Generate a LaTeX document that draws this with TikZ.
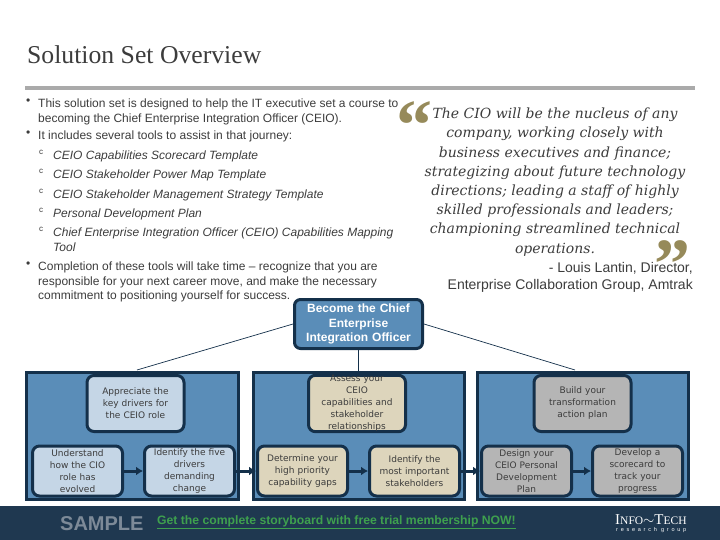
\documentclass[tikz,border=0pt]{standalone}
\usepackage{fontspec}
\setmainfont{Liberation Sans}
\newfontfamily\titlefont{Liberation Serif}
\newfontfamily\quotefont{DejaVu Serif}
\newfontfamily\boxfont{DejaVu Sans}
\newfontfamily\logofont[LetterSpace=50]{Liberation Sans}
\usetikzlibrary{arrows.meta,positioning}
\definecolor{navydark}{RGB}{20, 48, 74}
\definecolor{footerblue}{RGB}{31, 56, 80}
\definecolor{panelblue}{RGB}{90, 141, 184}
\definecolor{paleblue}{RGB}{197, 214, 230}
\definecolor{palesand}{RGB}{221, 213, 188}
\definecolor{palegray}{RGB}{181, 181, 181}
\definecolor{ruledgray}{RGB}{170, 170, 170}
\definecolor{bodygray}{RGB}{60, 60, 60}
\definecolor{quoteolive}{RGB}{150, 138, 90}
\definecolor{linkgreen}{RGB}{62, 160, 78}
\definecolor{samplegray}{RGB}{125, 138, 152}
\tikzset{
  panelbox/.style={draw=navydark, line width=3pt, fill=panelblue, minimum width=#1, minimum height=127pt, inner sep=0pt},
  topbox/.style={draw=navydark, line width=3pt, rounded corners=7pt, minimum width=97pt, minimum height=56pt, text width=92pt, align=center, inner sep=0pt, text=bodygray, font=\boxfont\fontsize{9}{12}\selectfont},
  lowbox/.style={topbox, minimum width=90pt, minimum height=50pt, text width=88pt},
  bodytext/.style={anchor=north west, inner sep=0pt, align=left, text=bodygray, font=\fontsize{12}{14.5}\selectfont},
  subtext/.style={bodytext, font=\fontsize{12}{14.5}\selectfont\itshape},
  quoteline/.style={inner sep=0pt, align=center, text=bodygray, font=\quotefont\fontsize{14}{19.2}\selectfont\itshape},
  quotemark/.style={text=quoteolive, inner sep=0pt, anchor=north, font=\titlefont\bfseries\fontsize{72}{72}\selectfont},
  flowarrow/.style={draw=navydark, line width=3pt, -{Latex[length=7pt,width=9pt]}},
  thinline/.style={draw=navydark, line width=0.7pt},
}
\begin{document}
\begin{tikzpicture}[x=1pt, y=-1pt]
    \useasboundingbox (0,0) rectangle (720,540);

    \node[anchor=west, inner sep=0pt, text=bodygray, font=\titlefont\fontsize{25.7}{26}\selectfont] (title) at (27,55) {Solution Set Overview};
    \fill[ruledgray] (25,86.5) rectangle (695,90);

    \node[bodytext] (bulletA) at (26,99) {•};
    \node[bodytext] (itemA) at (38,99) {This solution set is designed to help the IT executive set a course to\\becoming the Chief Enterprise Integration Officer (CEIO).};
    \node[bodytext] (bulletB) at (26,131) {•};
    \node[bodytext] (itemB) at (38,131) {It includes several tools to assist in that journey:};
    \foreach \name/\ypos/\txt in {subA/151/CEIO Capabilities Scorecard Template, subB/170/CEIO Stakeholder Power Map Template, subC/190/CEIO Stakeholder Management Strategy Template, subD/209/Personal Development Plan, subE/228/Chief Enterprise Integration Officer (CEIO) Capabilities Mapping\\Tool}{
        \node[bodytext, font=\fontsize{8}{8}\selectfont] (\name mark) at (39,\ypos-1) {c};
        \node[subtext] (\name) at (53,\ypos) {\txt};
    }
    \node[bodytext] (bulletC) at (26,262) {•};
    \node[bodytext] (itemC) at (38,262) {Completion of these tools will take time -- recognize that you are\\responsible for your next career move, and make the necessary\\commitment to positioning yourself for success.};

    \node[quotemark] (quoteopen) at (414,100) {\raisebox{-25pt}[24pt][0pt]{“}};
    \node[quotemark] (quoteclose) at (672,239.5) {\raisebox{-25pt}[24pt][0pt]{”}};
    \node[quoteline] (quote) at (555,182) {The CIO will be the nucleus of any\\company, working closely with\\business executives and finance;\\strategizing about future technology\\directions; leading a staff of highly\\skilled professionals and leaders;\\championing streamlined technical\\operations.};
    \node[anchor=north east, inner sep=0pt, align=right, text=bodygray, font=\fontsize{14}{17}\selectfont] (source) at (693,262.5) {- Louis Lantin, Director,\\Enterprise Collaboration Group, Amtrak};

    \node[panelbox=212pt] (panelA) at (132,435.5) {};
    \node[panelbox=211pt] (panelB) at (358.5,435.5) {};
    \node[panelbox=211pt] (panelC) at (582.5,435.5) {};

    \node[draw=navydark, line width=3pt, rounded corners=6pt, fill=panelblue, minimum width=128pt, minimum height=49pt, text width=122pt, align=center, inner sep=0pt, text=white, font=\bfseries\fontsize{12}{14.5}\selectfont] (goal) at (358.5,324) {Become the Chief\\Enterprise\\Integration Officer};

    \coordinate (panelAtop) at (137,370);
    \coordinate (panelCtop) at (575,370);
    \draw[thinline] (goal.west) -- (panelAtop);
    \draw[thinline] (goal.south) -- (panelB.north);
    \draw[thinline] (goal.east) -- (panelCtop);

    \node[topbox, fill=paleblue] (driverTop) at (135.5,403.5) {Appreciate the\\key drivers for\\the CEIO role};
    \node[lowbox, fill=paleblue] (driverA) at (77.5,471) {Understand\\how the CIO\\role has\\evolved};
    \node[lowbox, fill=paleblue] (driverB) at (189.5,471) {Identify the five\\drivers\\demanding\\change};

    \node[topbox, fill=palesand] (assessTop) at (357,403.5) {Assess your\\CEIO\\capabilities and\\stakeholder\\relationships};
    \node[lowbox, fill=palesand] (assessA) at (302.5,471) {Determine your\\high priority\\capability gaps};
    \node[lowbox, fill=palesand] (assessB) at (414.5,471) {Identify the\\most important\\stakeholders};

    \node[topbox, fill=palegray] (buildTop) at (582.5,403.5) {Build your\\transformation\\action plan};
    \node[lowbox, fill=palegray] (buildA) at (526.5,471) {Design your\\CEIO Personal\\Development\\Plan};
    \node[lowbox, fill=palegray] (buildB) at (637.5,471) {Develop a\\scorecard to\\track your\\progress};

    \draw[flowarrow] (driverA) -- (driverB);
    \draw[flowarrow] (driverB) -- (assessA);
    \draw[flowarrow] (assessA) -- (assessB);
    \draw[flowarrow] (assessB) -- (buildA);
    \draw[flowarrow] (buildA) -- (buildB);

    \fill[footerblue] (0,506) rectangle (720,540);
    \node[anchor=west, inner sep=0pt, text=samplegray, font=\bfseries\fontsize{20}{20}\selectfont] (sample) at (60,523.5) {SAMPLE};
    \node[anchor=west, inner sep=0pt, text=linkgreen, font=\bfseries\fontsize{12.2}{13}\selectfont] (link) at (157,522.5) {\underline{Get the complete storyboard with free trial membership NOW!}};
    \node[anchor=west, inner sep=0pt, text=white, font=\titlefont\fontsize{15}{15}\selectfont] (logo) at (615,519.5) {I{\fontsize{11.5}{12}\selectfont NFO}$\sim$T{\fontsize{11.5}{12}\selectfont ECH}};
    \node[anchor=west, inner sep=0pt, text=white, font=\logofont\fontsize{5.5}{6}\selectfont] (logosub) at (616,530) {research group};
\end{tikzpicture}
\end{document}
